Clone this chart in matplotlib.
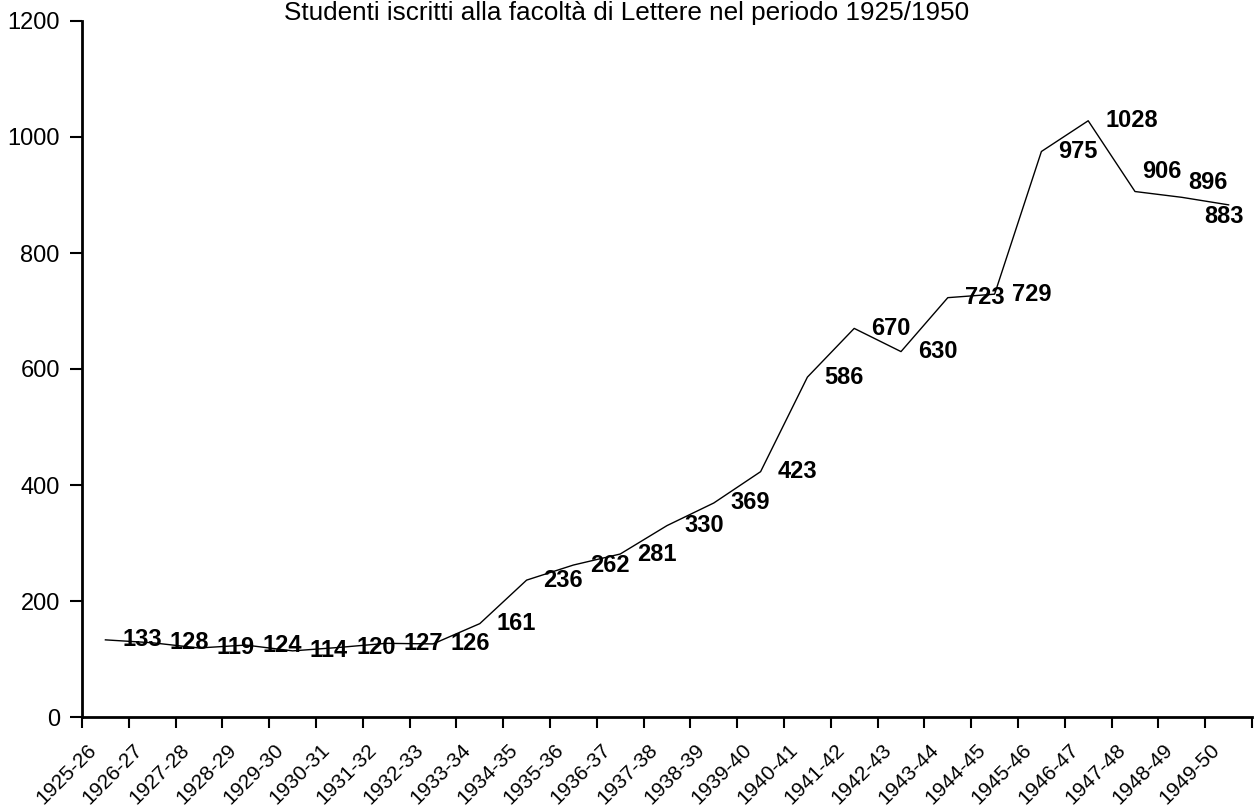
import matplotlib
matplotlib.use("Agg")
import matplotlib.pyplot as plt
from matplotlib.transforms import ScaledTranslation
import numpy as np

plt.rcParams['font.family'] = ['Liberation Sans', 'DejaVu Sans']

title = "Studenti iscritti alla facoltà di Lettere nel periodo 1925/1950"
years = ["1925-26", "1926-27", "1927-28", "1928-29", "1929-30", "1930-31", "1931-32",
         "1932-33", "1933-34", "1934-35", "1935-36", "1936-37", "1937-38", "1938-39",
         "1939-40", "1940-41", "1941-42", "1942-43", "1943-44", "1944-45", "1945-46",
         "1946-47", "1947-48", "1948-49", "1949-50"]
students = [133, 128, 119, 124, 114, 120, 127, 126, 161, 236, 262, 281, 330, 369, 423,
            586, 670, 630, 723, 729, 975, 1028, 906, 896, 883]

# label offsets in pixels (dx, dy up) -- layout only
label_offsets = {22: (7, 20), 23: (6, 15), 24: (-24, -12)}
default_offset = (17, 0)

W, H = 1254, 809
fig = plt.figure(figsize=(W / 100, H / 100), dpi=100)
ax = fig.add_axes([82 / W, 1 - 717 / H, 1170 / W, 696 / H])

x = np.arange(len(years)) + 0.5
ax.plot(x, students, color='black', linewidth=1.0, clip_on=False)

px2pt = 72 / 100
for i, v in enumerate(students):
    dx, dy = label_offsets.get(i, default_offset)
    ax.annotate(str(v), (x[i], v), xytext=(dx * px2pt, dy * px2pt), textcoords='offset points',
                ha='left', va='center', fontsize=17, fontweight='bold', color='black')

ax.set_xlim(0, len(years))
ax.set_ylim(0, 1200)
ax.set_yticks(np.arange(0, 1201, 200))
ax.set_xticks(np.arange(0, len(years) + 1))
ax.set_xticklabels([])
ax.set_xticks(x, minor=True)
ax.set_xticklabels(years, minor=True, rotation=45, ha='right', va='top',
                   rotation_mode='anchor', fontsize=15)
ax.tick_params(axis='x', which='minor', length=0, pad=17)
ax.tick_params(axis='x', which='major', length=8, width=1.5, direction='out')
ax.tick_params(axis='y', length=9, width=1.5, direction='out', pad=7, labelsize=17)

off = ScaledTranslation(-19 / 100, 0, fig.dpi_scale_trans)
for lab in ax.get_xticklabels(minor=True):
    lab.set_transform(lab.get_transform() + off)

for s in ['top', 'right']:
    ax.spines[s].set_visible(False)
for s in ['left', 'bottom']:
    ax.spines[s].set_linewidth(2)
    ax.spines[s].set_color('black')

fig.text(627 / W, 1 - 20 / H, title, ha='center', va='baseline', fontsize=18.8)

fig.savefig("out.png", dpi=100)
